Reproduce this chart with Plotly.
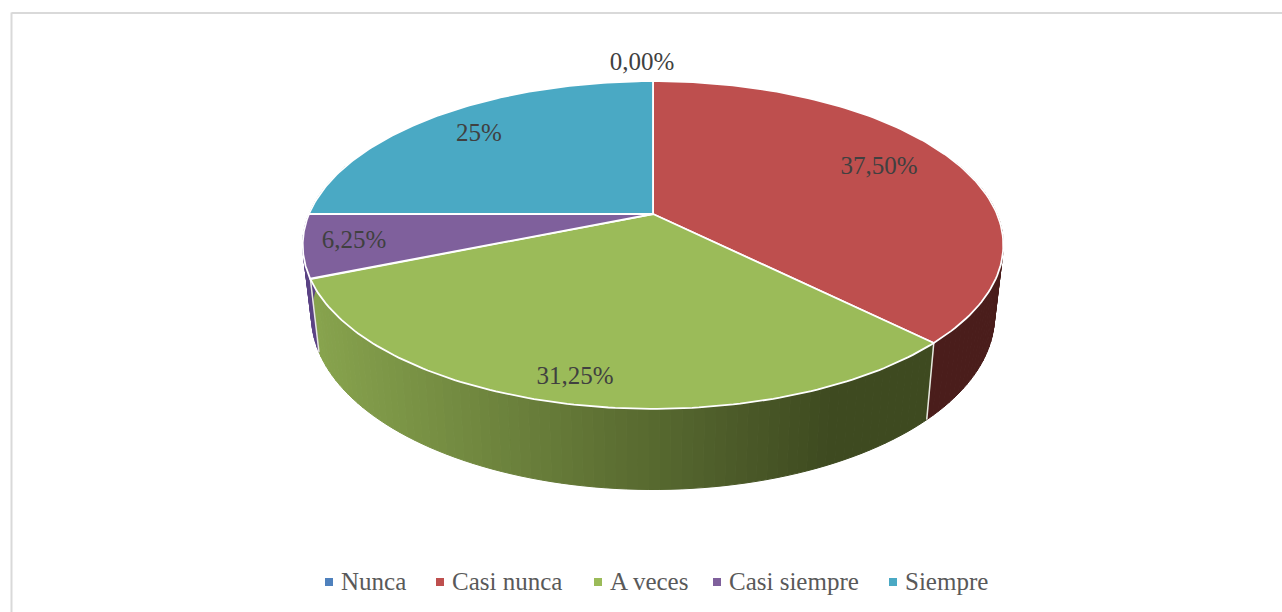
import numpy as np
import plotly.graph_objects as go

categories = ["Nunca", "Casi nunca", "A veces", "Casi siempre", "Siempre"]
values = [0.0, 37.5, 31.25, 6.25, 25.0]
value_labels = ["0,00%", "37,50%", "31,25%", "6,25%", "25%"]

colors = ["#4f81bd", "#be4f4e", "#9bbb59", "#7f609c", "#4aa9c4"]
side_colors = ["#2c4a6e", "#4a1d1b", None, "#5b4385", "#2a6a7c"]
label_xy = [(642, 64), (879, 168), (575, 378), (354, 242), (479, 135)]
legend_marker_x = [329, 440, 598, 717, 893]

CX, CY, A, B, K = 653.0, 214.0, 344.0, 158.0, 0.189
CY2, SX, SY = 283.0, 0.975, 1.06


def top(theta):
    u, v = np.sin(theta), np.cos(theta)
    w = 1 + K * v
    return CX + A * u / w, CY - B * v / w


def bottom(theta):
    u, v = np.sin(theta), np.cos(theta)
    w = 1 + K * v
    return CX + SX * A * u / w, CY2 - SY * B * v / w


def grad(x):
    t = min(max((x - 318) / (830 - 318), 0), 1)
    c0, c1 = (135, 163, 77), (62, 74, 32)
    return "rgb(%d,%d,%d)" % tuple(round(a + (b - a) * t) for a, b in zip(c0, c1))


cum = np.cumsum([0] + values) / 100 * 2 * np.pi
fig = go.Figure()


def poly(xs, ys, fill, line=None, width=0):
    fig.add_trace(go.Scatter(x=xs, y=ys, mode="lines", fill="toself", fillcolor=fill,
                             line=dict(color=line or fill, width=width),
                             hoverinfo="skip", showlegend=False))


# side wall, only the front half can be seen
for i, name in enumerate(categories):
    a0c, a1c = max(cum[i], np.radians(70)), min(cum[i + 1], np.radians(290))
    if a1c <= a0c:
        continue
    n = max(int((a1c - a0c) / np.radians(1.5)), 1)
    th = np.linspace(a0c, a1c, n + 1)
    for j in range(n):
        t2 = th[j:j + 2]
        tx, ty = top(t2)
        bx, by = bottom(t2)
        c = side_colors[i] or grad(0.25 * (tx.sum() + bx.sum()))
        poly([tx[0], tx[1], bx[1], bx[0], tx[0]], [ty[0], ty[1], by[1], by[0], ty[0]], c, c, 1)

# white seams on the wall
for a in cum[2:4]:
    tx, ty = top(np.array([a]))
    bx, by = bottom(np.array([a]))
    fig.add_trace(go.Scatter(x=[tx[0], bx[0]], y=[ty[0], by[0]], mode="lines",
                             line=dict(color="#e8e8e0", width=1.5), hoverinfo="skip", showlegend=False))

# top face
for i, name in enumerate(categories):
    if values[i] <= 0:
        continue
    th = np.linspace(cum[i], cum[i + 1], 120)
    tx, ty = top(th)
    poly([CX] + list(tx) + [CX], [CY] + list(ty) + [CY], colors[i], "white", 1.8)

# data labels
fig.add_trace(go.Scatter(x=[p[0] for p in label_xy], y=[p[1] for p in label_xy], mode="text",
                         text=value_labels, textposition="middle center",
                         textfont=dict(family="Liberation Serif", size=25, color="#404040"),
                         hoverinfo="skip", showlegend=False))

# legend
fig.add_trace(go.Scatter(x=legend_marker_x, y=[582] * 5, mode="markers",
                         marker=dict(symbol="square", size=8, color=colors, line=dict(width=0)),
                         hoverinfo="skip", showlegend=False))
fig.add_trace(go.Scatter(x=[x + 12 for x in legend_marker_x], y=[584] * 5, mode="text",
                         text=categories, textposition="middle right",
                         textfont=dict(family="Liberation Serif", size=25, color="#595959"),
                         hoverinfo="skip", showlegend=False))

fig.update_layout(
    width=1282, height=612, margin=dict(l=0, r=0, t=0, b=0),
    paper_bgcolor="white", plot_bgcolor="white", showlegend=False,
    xaxis=dict(range=[0, 1282], visible=False, fixedrange=True),
    yaxis=dict(range=[612, 0], visible=False, fixedrange=True),
    shapes=[
        dict(type="line", x0=11.5, x1=11.5, y0=12.5, y1=612, line=dict(color="#d9d9d9", width=2)),
        dict(type="line", x0=11.5, x1=1282, y0=13, y1=13, line=dict(color="#d9d9d9", width=2)),
    ],
)
fig.write_html("out.html", post_script="document.body.style.margin='0';document.body.style.overflow='hidden';",
               config={"displayModeBar": False})
